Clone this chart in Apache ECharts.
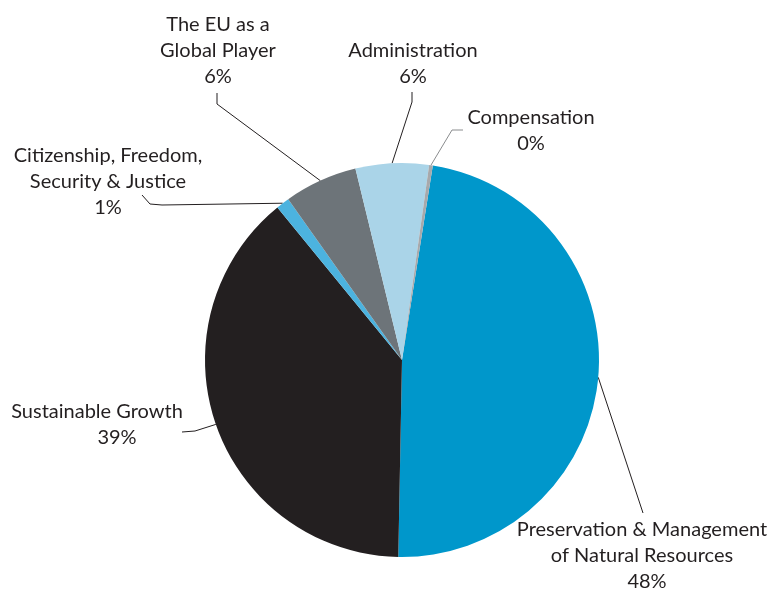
<!DOCTYPE html>
<html>
<head>
<meta charset="utf-8">
<script src="https://cdn.jsdelivr.net/npm/echarts@6/dist/echarts.min.js"></script>
<style>
  html, body { margin: 0; padding: 0; background: #ffffff; }
  #chart { width: 771px; height: 589px; }
</style>
</head>
<body>
<div id="chart"></div>
<script>
// Budget headings, clockwise from the top of the pie
const categories = [
  'Preservation & Management of Natural Resources',
  'Sustainable Growth',
  'Citizenship, Freedom, Security & Justice',
  'The EU as a Global Player',
  'Administration',
  'Compensation'
];
// Label text with manual line breaks
const labelTexts = [
  'Preservation & Management\nof Natural Resources',
  'Sustainable Growth',
  'Citizenship, Freedom,\nSecurity & Justice',
  'The EU as a\nGlobal Player',
  'Administration',
  'Compensation'
];
// Share of the budget (%)
const shares = [47.8, 38.8, 1.1, 6.0, 6.0, 0.3];
const colors = ['#0097cb', '#231f20', '#4cb3df', '#6d7479', '#aad4e8', '#a7a9ac'];

// Label placement: block centre x, block top y, percentage indent,
// and leader bends (after the slice edge point)
const labelPlacement = [
  { x: 642, y: 517, indent: 10, bends: [[643, 513]] },
  { x: 97,  y: 399, indent: 40, bends: [[195, 431], [182, 432]] },
  { x: 108, y: 143, indent: 0,  bends: [[162, 205], [150, 204], [142, 195]] },
  { x: 218, y: 12,  indent: 0,  bends: [[217, 104], [217, 93]] },
  { x: 413, y: 38,  indent: 0,  bends: [[412, 102], [412, 92]] },
  { x: 531, y: 105, indent: 0,  bends: [[452, 130], [463, 130]] }
];
const leaderColors = ['#231f20', '#231f20', '#231f20', '#231f20', '#231f20', '#8a8c8e'];

const chart = echarts.init(document.getElementById('chart'), null, { renderer: 'canvas' });

const textStyle = { color: '#231f20', fontFamily: 'Lato', fontSize: 20, lineHeight: 26 };

const seriesData = categories.map((name, i) => ({
  name: name,
  value: shares[i],
  itemStyle: { color: colors[i] },
  label: {
    rich: {
      pct: Object.assign({ padding: [0, 0, 0, labelPlacement[i].indent] }, textStyle)
    }
  },
  labelLine: { lineStyle: { color: leaderColors[i], width: 1 } }
}));

chart.setOption({
  animation: false,
  series: [{
    type: 'pie',
    center: [402, 360],
    radius: 197,
    startAngle: 81,
    clockwise: true,
    data: seriesData,
    itemStyle: { borderWidth: 0 },
    emphasis: { disabled: true },
    label: Object.assign({
      show: true,
      position: 'outside',
      width: 320,
      overflow: 'none',
      align: 'center',
      formatter: p => labelTexts[p.dataIndex] + '\n{pct|' + Math.round(p.percent) + '%}'
    }, textStyle),
    labelLine: { show: true, length: 10, length2: 10, smooth: false },
    labelLayout: params => {
      const place = labelPlacement[params.dataIndex];
      const start = params.labelLinePoints ? params.labelLinePoints[0] : null;
      const out = {
        x: place.x,
        y: place.y,
        align: 'center',
        verticalAlign: 'top'
      };
      if (start) out.labelLinePoints = [start].concat(place.bends);
      return out;
    }
  }]
});
</script>
</body>
</html>
